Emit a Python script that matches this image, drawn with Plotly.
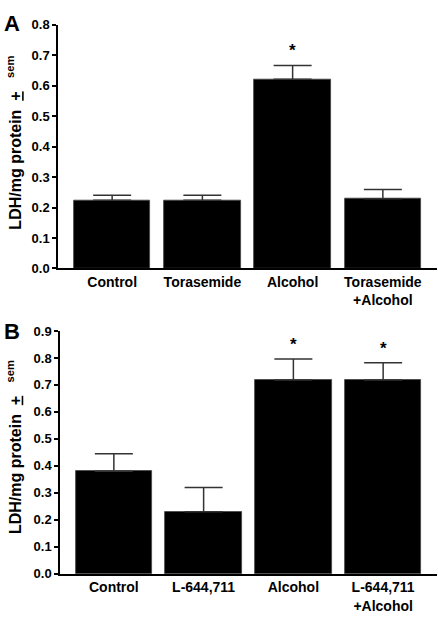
import plotly.graph_objects as go

# Panel A data
cats_a = ["Control", "Torasemide", "Alcohol", "Torasemide<br>+Alcohol"]
vals_a = [0.224, 0.224, 0.621, 0.229]
sem_a = [0.016, 0.016, 0.045, 0.030]
star_a = [False, False, True, False]

# Panel B data
cats_b = ["Control", "L-644,711", "Alcohol", "L-644,711<br>+Alcohol"]
vals_b = [0.380, 0.230, 0.718, 0.718]
sem_b = [0.065, 0.090, 0.078, 0.064]
star_b = [False, False, True, True]

yticks_a = [0.0, 0.1, 0.2, 0.3, 0.4, 0.5, 0.6, 0.7, 0.8]
yticks_b = [0.0, 0.1, 0.2, 0.3, 0.4, 0.5, 0.6, 0.7, 0.8, 0.9]

W, H = 438, 618
FONT = "Liberation Sans, Arial, sans-serif"

fig = go.Figure()

def add_bars(cats, vals, sems, xa, ya):
    fig.add_trace(go.Bar(
        x=list(range(len(cats))), y=vals, width=0.85,
        marker=dict(color="black", line=dict(color="#444", width=0.8)),
        error_y=dict(type="data", symmetric=False, array=sems,
                     arrayminus=[0] * len(sems), color="#333",
                     thickness=1.5, width=19),
        xaxis=xa, yaxis=ya, showlegend=False, hoverinfo="skip",
    ))

add_bars(cats_a, vals_a, sem_a, "x", "y")
add_bars(cats_b, vals_b, sem_b, "x2", "y2")

annotations = []
for cats, vals, sems, stars, xr, yr in [
    (cats_a, vals_a, sem_a, star_a, "x", "y"),
    (cats_b, vals_b, sem_b, star_b, "x2", "y2"),
]:
    for i, (v, s, st) in enumerate(zip(vals, sems, stars)):
        if st:
            annotations.append(dict(
                x=i, y=v + s, xref=xr, yref=yr, text="<b>*</b>",
                showarrow=False, xanchor="center", yanchor="bottom", yshift=3,
                font=dict(family=FONT, size=17, color="black")))

# Panel letters
annotations.append(dict(x=2 / W, y=1 - 2 / H, xref="paper", yref="paper",
                        text="<b>A</b>", showarrow=False, xanchor="left",
                        yanchor="top", font=dict(family=FONT, size=22, color="black")))
annotations.append(dict(x=2 / W, y=1 - 318 / H, xref="paper", yref="paper",
                        text="<b>B</b>", showarrow=False, xanchor="left",
                        yanchor="top", font=dict(family=FONT, size=22, color="black")))

NB = "\u00a0"
ytitle = f"<b>LDH/mg protein{NB * 2}<u>+</u>{NB * 3}<sup>sem</sup></b>"
for yc in (139, 451):
    annotations.append(dict(x=14 / W, y=1 - yc / H, xref="paper", yref="paper",
                            text=ytitle, showarrow=False, textangle=-90,
                            xanchor="center", yanchor="middle",
                            font=dict(family=FONT, size=16, color="black")))

xcommon = dict(range=[-0.6, 3.6], showline=True, linecolor="black", linewidth=1.5,
               ticks="", showgrid=False, zeroline=False, fixedrange=True,
               tickfont=dict(family=FONT, size=14, color="black"))
ycommon = dict(showline=True, linecolor="black", linewidth=1.5, ticks="outside",
               ticklen=4, tickwidth=1.5, tickcolor="black", showgrid=False,
               zeroline=False, fixedrange=True,
               tickfont=dict(family=FONT, size=13, color="black"))

fig.update_layout(
    width=W, height=H,
    margin=dict(l=0, r=0, t=0, b=0),
    paper_bgcolor="white", plot_bgcolor="white",
    font=dict(family=FONT, color="black"),
    bargap=0,
    xaxis=dict(domain=[58 / W, 437 / W], anchor="y",
               tickvals=list(range(len(cats_a))), ticktext=[f"<b>{c}</b>" for c in cats_a],
               **xcommon),
    yaxis=dict(domain=[(H - 268) / H, (H - 18) / H], anchor="x", range=[0, 0.8],
               tickvals=yticks_a, ticktext=[f"<b>{t:.1f}</b>" for t in yticks_a],
               **ycommon),
    xaxis2=dict(domain=[60 / W, 437 / W], anchor="y2",
                tickvals=list(range(len(cats_b))), ticktext=[f"<b>{c}</b>" for c in cats_b],
                **xcommon),
    yaxis2=dict(domain=[(H - 581) / H, (H - 332) / H], anchor="x2", range=[0, 0.9],
                tickvals=yticks_b, ticktext=[f"<b>{t:.1f}</b>" for t in yticks_b],
                **ycommon),
    annotations=annotations,
)

fig.write_html("out.html", config={"displayModeBar": False},
               post_script="document.body.style.margin='0';")
